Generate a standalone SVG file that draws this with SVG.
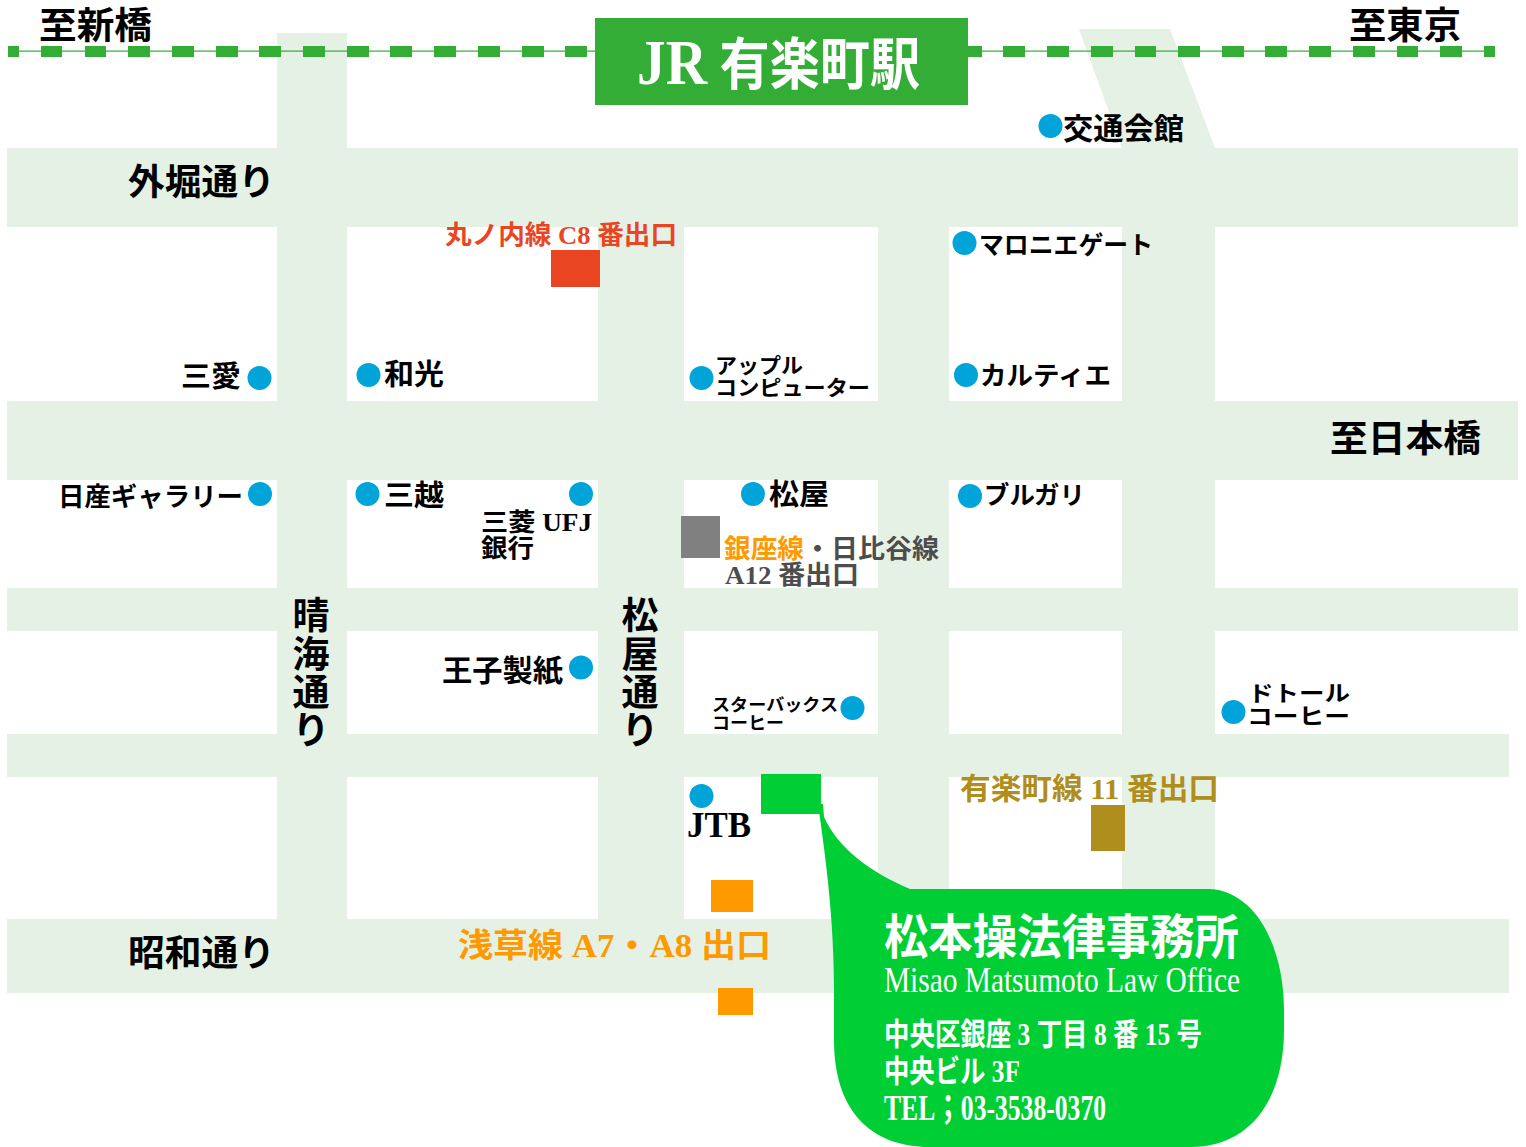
<svg xmlns="http://www.w3.org/2000/svg" width="1526" height="1147" viewBox="0 0 1526 1147">
<style>
text{font-family:"Liberation Serif","Noto Sans CJK JP",serif;font-weight:700;fill:#000}
.road{fill:#e5f1e4}
.rail{fill:#34ad36}
.dot{fill:#00a4d8}
.w{fill:#fff}
.red{fill:#ea4523}
.gold{fill:#b08e1d}
.or{fill:#ff9900}
.dk{fill:#4d4d4d}
</style>
<rect width="1526" height="1147" fill="#fff"/>
<g id="roads">
<rect class="road" x="7" y="148" width="1511" height="79"/>
<rect class="road" x="7" y="401" width="1511" height="79"/>
<rect class="road" x="7" y="588" width="1511" height="43"/>
<rect class="road" x="7" y="734" width="1502" height="43"/>
<rect class="road" x="7" y="919" width="1502" height="74"/>
<rect class="road" x="277" y="33" width="70" height="886"/>
<rect class="road" x="598" y="227" width="86" height="692"/>
<rect class="road" x="878" y="227" width="71" height="680"/>
<polygon class="road" points="1079,29 1170,29 1215,148 1215,907 1122,907 1122,148"/>
</g>
<g id="railway">
<rect class="rail" x="8" y="50.5" width="1487" height="1.2"/>
<path class="rail" d="M8 46h11v11H8zM41 46h21v11H41zM85 46h21v11H85zM128 46h22v11h-22zM172 46h22v11h-22zM216 46h22v11h-22zM259 46h22v11h-22zM303 46h22v11h-22zM347 46h22v11h-22zM390 46h22v11h-22zM434 46h22v11h-22zM478 46h22v11h-22zM522 46h22v11h-22zM565 46h22v11h-22zM967 46h15v11h-15zM1003 46h22v11h-22zM1047 46h22v11h-22zM1091 46h22v11h-22zM1135 46h21v11h-21zM1178 46h22v11h-22zM1222 46h22v11h-22zM1265 46h22v11h-22zM1309 46h22v11h-22zM1353 46h22v11h-22zM1397 46h21v11h-21zM1440 46h22v11h-22zM1484 46h11v11h-11z"/>
<rect class="rail" x="595" y="18" width="373" height="87"/>
<text class="w" x="637" y="84" font-size="56" textLength="283" lengthAdjust="spacingAndGlyphs"><tspan font-size="64">JR</tspan> 有楽町駅</text>
<text x="39" y="39" font-size="37" textLength="113" lengthAdjust="spacingAndGlyphs">至新橋</text>
<text x="1349" y="39" font-size="37" textLength="112" lengthAdjust="spacingAndGlyphs">至東京</text>
</g>
<g id="road-labels">
<text x="128" y="195" font-size="36" textLength="147" lengthAdjust="spacingAndGlyphs">外堀通り</text>
<text x="1330" y="452" font-size="37" textLength="151" lengthAdjust="spacingAndGlyphs">至日本橋</text>
<text x="128" y="966" font-size="36" textLength="147" lengthAdjust="spacingAndGlyphs">昭和通り</text>
<text x="311 311 311 311" y="629 668 706 744" font-size="37" text-anchor="middle">晴海通り</text>
<text x="640 640 640 640" y="629 668 706 744" font-size="37" text-anchor="middle">松屋通り</text>
</g>
<g id="exits">
<rect class="red" x="551" y="250" width="49" height="37"/>
<text class="red" x="445" y="244" font-size="26" textLength="232" lengthAdjust="spacingAndGlyphs">丸ノ内線 C8 番出口</text>
<rect x="681" y="516" width="39" height="42" fill="#808080"/>
<text class="or" x="724" y="558" font-size="26" textLength="80" lengthAdjust="spacingAndGlyphs">銀座線</text>
<text class="dk" x="804" y="558" font-size="26" textLength="135" lengthAdjust="spacingAndGlyphs">・日比谷線</text>
<text class="dk" x="725" y="584" font-size="26" textLength="134" lengthAdjust="spacingAndGlyphs">A12 番出口</text>
<rect class="gold" x="1091" y="805" width="34" height="46"/>
<text class="gold" x="960" y="799" font-size="30" textLength="259" lengthAdjust="spacingAndGlyphs">有楽町線 11 番出口</text>
<rect class="or" x="711" y="880" width="42" height="32"/>
<rect class="or" x="718" y="988" width="35" height="27"/>
<text class="or" x="458" y="957" font-size="33" textLength="313" lengthAdjust="spacingAndGlyphs">浅草線 A7・A8 出口</text>
</g>
<g id="landmarks">
<circle class="dot" cx="1050.500" cy="126" r="12"/><text x="1063" y="139" font-size="30" textLength="121" lengthAdjust="spacingAndGlyphs">交通会館</text>
<circle class="dot" cx="964.500" cy="243" r="12"/><text x="979" y="254" font-size="25" textLength="174" lengthAdjust="spacingAndGlyphs">マロニエゲート</text>
<circle class="dot" cx="966" cy="375" r="12"/><text x="980" y="385" font-size="26" textLength="131" lengthAdjust="spacingAndGlyphs">カルティエ</text>
<circle class="dot" cx="701.500" cy="378" r="12"/><text x="715" y="373" font-size="21" textLength="88" lengthAdjust="spacingAndGlyphs">アップル</text><text x="715" y="395" font-size="21" textLength="155" lengthAdjust="spacingAndGlyphs">コンピューター</text>
<circle class="dot" cx="259.500" cy="378" r="12"/><text x="181" y="387" font-size="29" textLength="60" lengthAdjust="spacingAndGlyphs">三愛</text>
<circle class="dot" cx="368.500" cy="375" r="12"/><text x="384" y="385" font-size="29" textLength="60" lengthAdjust="spacingAndGlyphs">和光</text>
<circle class="dot" cx="260" cy="494" r="12"/><text x="58" y="506" font-size="26" textLength="185" lengthAdjust="spacingAndGlyphs">日産ギャラリー</text>
<circle class="dot" cx="367.500" cy="494" r="12"/><text x="384" y="506" font-size="29" textLength="60" lengthAdjust="spacingAndGlyphs">三越</text>
<circle class="dot" cx="581" cy="494" r="12"/><text x="481" y="531" font-size="25" textLength="111" lengthAdjust="spacingAndGlyphs">三菱 UFJ</text><text x="481" y="557" font-size="25" textLength="53" lengthAdjust="spacingAndGlyphs">銀行</text>
<circle class="dot" cx="753" cy="494" r="12"/><text x="769" y="505" font-size="29" textLength="60" lengthAdjust="spacingAndGlyphs">松屋</text>
<circle class="dot" cx="970" cy="496" r="12"/><text x="984" y="504" font-size="25" textLength="101" lengthAdjust="spacingAndGlyphs">ブルガリ</text>
<circle class="dot" cx="581" cy="667.500" r="12"/><text x="442" y="681" font-size="30" textLength="121" lengthAdjust="spacingAndGlyphs">王子製紙</text>
<circle class="dot" cx="852.500" cy="708" r="12"/><text x="712" y="711" font-size="17" textLength="126" lengthAdjust="spacingAndGlyphs">スターバックス</text><text x="712" y="729" font-size="17" textLength="72" lengthAdjust="spacingAndGlyphs">コーヒー</text>
<circle class="dot" cx="1233.500" cy="712" r="12"/><text x="1248" y="701" font-size="22" textLength="102" lengthAdjust="spacingAndGlyphs">ドトール</text><text x="1247" y="724" font-size="22" textLength="103" lengthAdjust="spacingAndGlyphs">コーヒー</text>
<circle class="dot" cx="701.500" cy="796" r="12"/><text x="687" y="837" font-size="36" textLength="64" lengthAdjust="spacingAndGlyphs">JTB</text>
</g>
<g id="office">
<rect x="761" y="774" width="60" height="40" fill="#00ce35"/>
<path fill="#00ce35" d="M818 804L823 804L824 817C838 848 870 872 910 889L1210 889C1258 892 1284 950 1284 1010L1284 1030C1284 1100 1250 1147 1190 1147L930 1147C870 1147 834 1110 834 1040L834 990C834 920 826 860 818 804Z"/>
<text class="w" x="884" y="954" font-size="48" textLength="355" lengthAdjust="spacingAndGlyphs">松本操法律事務所</text>
<text class="w" x="884" y="992" font-size="36" style="font-weight:400" textLength="356" lengthAdjust="spacingAndGlyphs">Misao Matsumoto Law Office</text>
<text class="w" x="884" y="1045" font-size="31" textLength="318" lengthAdjust="spacingAndGlyphs">中央区銀座 3 丁目 8 番 15 号</text>
<text class="w" x="884" y="1082" font-size="31" textLength="136" lengthAdjust="spacingAndGlyphs">中央ビル 3F</text>
<text class="w" x="884" y="1120" font-size="35" textLength="222" lengthAdjust="spacingAndGlyphs">TEL；03-3538-0370</text>
</g>
</svg>
